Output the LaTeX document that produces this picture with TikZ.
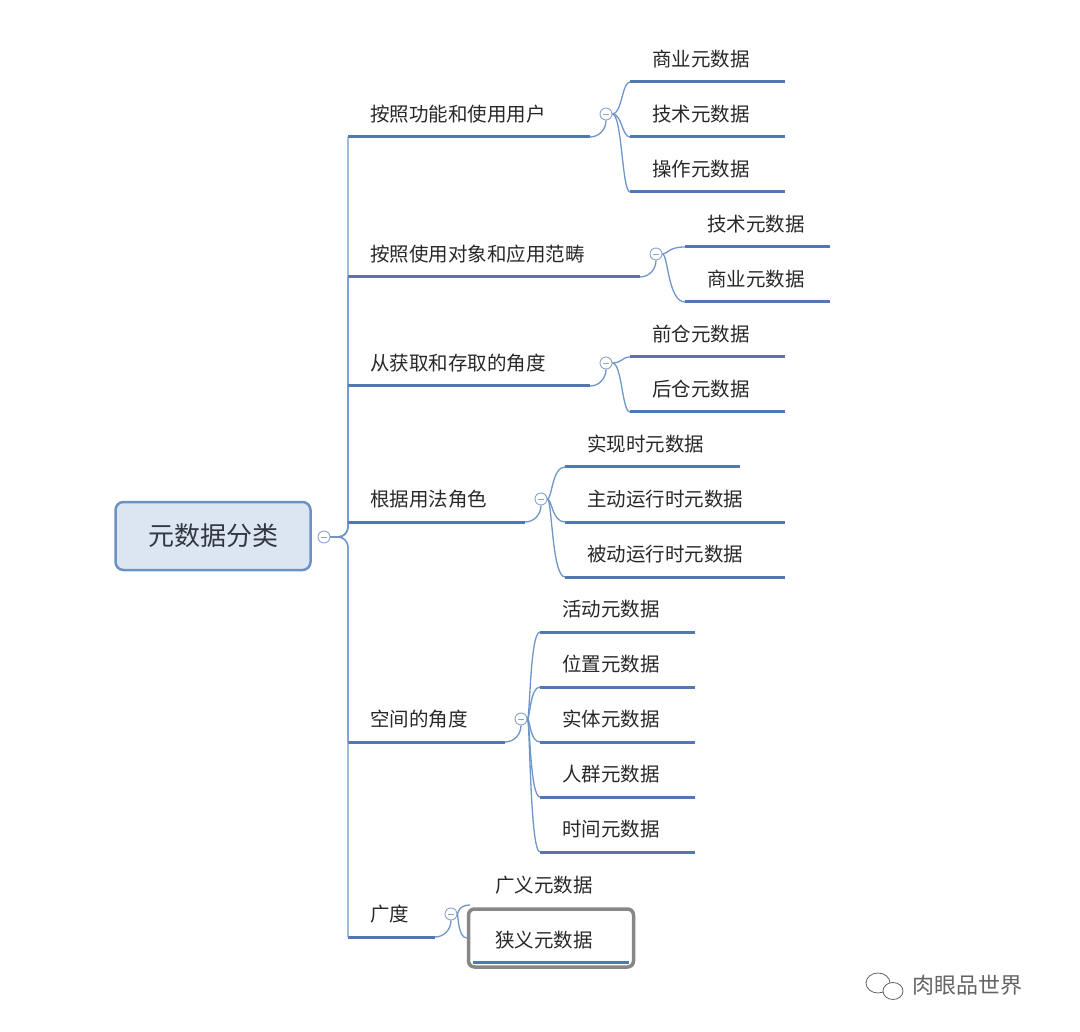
\documentclass[tikz,border=0pt]{standalone}
\usepackage{fontspec}
\newfontfamily\cjk{Noto Sans CJK SC}
\definecolor{ulc}{RGB}{79,120,180}
\definecolor{cnc}{RGB}{110,150,200}
\definecolor{btc}{RGB}{140,165,200}
\definecolor{txc}{RGB}{40,40,40}
\definecolor{rootd}{RGB}{110,145,195}
\definecolor{rootf}{RGB}{220,230,243}
\definecolor{roott}{RGB}{50,55,65}
\definecolor{boxg}{RGB}{135,135,135}
\definecolor{wmc}{RGB}{100,100,100}
\begin{document}
\begin{tikzpicture}[x=1pt,y=-1pt,
  ul/.style={draw=ulc, line width=3pt},
  conn/.style={draw=cnc, line width=1.3pt, rounded corners=10pt},
  lbl/.style={anchor=west, font=\cjk\fontsize{19.5}{19.5}\selectfont, text=txc, inner sep=0},
  cbtn/.style={circle, draw=btc, line width=0.9pt, fill=white, minimum size=12pt, inner sep=0,
    path picture={\draw[btc, line width=0.9pt] ([xshift=-3pt]path picture bounding box.center) -- ([xshift=3pt]path picture bounding box.center);}}]
\useasboundingbox (0,0) rectangle (1080,1032);
% root
\node[draw=rootd, line width=2.5pt, fill=rootf, rounded corners=8pt, minimum width=195pt, minimum height=68pt, font=\cjk\fontsize{26}{26}\selectfont, text=roott] (root) at (213,536) {元数据分类};
\node[cbtn] (c0) at (324,537) {};
\coordinate (hub) at (338,537);
\draw[conn] (c0.east) -- (hub);
% branches
\foreach \nn/\yy/\ee/\tt in {1/137/590/按照功能和使用用户, 2/277/640/按照使用对象和应用范畴, 3/386/590/从获取和存取的角度, 4/522/525/根据用法角色, 5/742/505/空间的角度, 6/937/435/广度}{
  \coordinate (b\nn s) at (348,\yy);
  \coordinate (b\nn e) at (\ee,\yy);
  \draw[ul] (b\nn s) -- (b\nn e);
  \node[lbl] (bt\nn) at (370,\yy-23) {\tt};
  \draw[conn] (hub) -| (b\nn s);
  \node[cbtn] (bc\nn) at (\ee+16,\yy-23) {};
  \draw[conn] (b\nn e) to[out=0,in=-90] (bc\nn.south);
}
% leaves
\foreach \bb/\ii/\yy/\xa/\xb/\vx/\tt in {
 1/1/82/630/785/622/商业元数据, 1/2/137/630/785/622/技术元数据, 1/3/192/630/785/622/操作元数据,
 2/1/247/685/830/668/技术元数据, 2/2/302/685/830/668/商业元数据,
 3/1/357/630/785/622/前仓元数据, 3/2/412/630/785/622/后仓元数据,
 4/1/467/565/740/552/实现时元数据, 4/2/522/565/785/552/主动运行时元数据, 4/3/577/565/785/552/被动运行时元数据,
 5/1/632/540/695/530/活动元数据, 5/2/687/540/695/530/位置元数据, 5/3/742/540/695/530/实体元数据, 5/4/797/540/695/530/人群元数据, 5/5/852/540/695/530/时间元数据}{
  \coordinate (l\bb\ii s) at (\xa,\yy);
  \coordinate (l\bb\ii e) at (\xb,\yy);
  \draw[ul] (l\bb\ii s) -- (l\bb\ii e);
  \node[lbl] (lt\bb\ii) at (\xa+22,\yy-23) {\tt};
  \draw[conn] (bc\bb.east) .. controls (\vx,\yy-23 |- bc\bb.east) and (\vx,\yy) .. (l\bb\ii s);
}
% breadth leaves
\node[lbl] (lt61) at (495,885) {广义元数据};
\coordinate (l61s) at (470,905);
\draw[conn] (bc6.east) .. controls (458,914) and (458,905) .. (l61s);
\node[draw=boxg, line width=3.5pt, rounded corners=6pt, minimum width=165pt, minimum height=58pt] (box62) at (551,938) {};
\node[lbl] (lt62) at (495,940) {狭义元数据};
\draw[ul] ([xshift=6pt,yshift=6pt]box62.south west) -- ([xshift=-6pt,yshift=6pt]box62.south east);
\draw[conn] (bc6.east) .. controls (458,914) and (458,938) .. (box62.west);
% watermark
\node[font=\cjk\fontsize{22}{22}\selectfont, text=wmc, anchor=west, inner sep=0] (wm) at (912,985) {肉眼品世界};
\draw[wmc, line width=0.8pt] (878,983) ellipse (12pt and 10pt);
\draw[wmc, line width=0.8pt, fill=white] (893,991) ellipse (10pt and 8.5pt);
\end{tikzpicture}
\end{document}
